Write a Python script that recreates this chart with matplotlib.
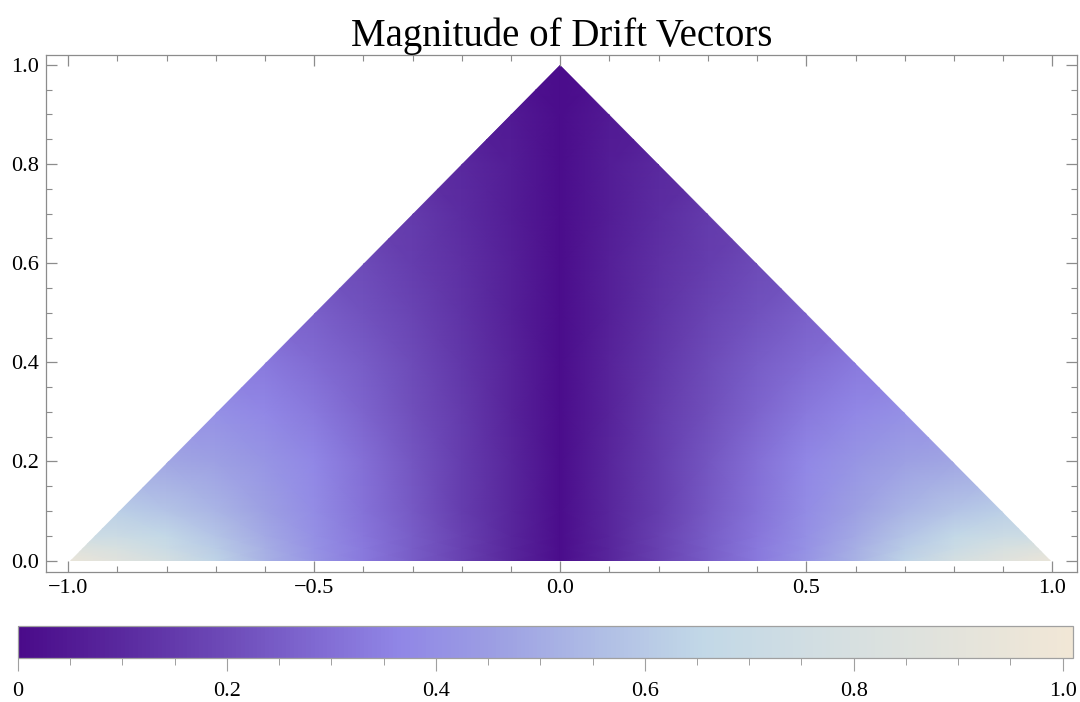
import numpy as np
import matplotlib.pyplot as plt
from matplotlib.colors import LinearSegmentedColormap
from matplotlib.patches import Polygon
from matplotlib.ticker import MultipleLocator, FixedLocator

plt.rcParams['font.family'] = ['Liberation Serif', 'DejaVu Serif']

# sample grid for the right half of the domain (left half is the mirror image)
x_half = [0.0, 0.1, 0.2, 0.3, 0.4, 0.5, 0.6, 0.7, 0.8, 0.9, 1.0]
y_rows = [0.0, 0.025, 0.05, 0.1, 0.2, 0.3, 0.4, 0.5, 0.6, 0.7, 0.8, 0.9, 1.0]

# drift magnitude at each (y, x) node
magnitude = [
    [0.01, 0.09, 0.17, 0.25, 0.33, 0.42, 0.52, 0.64, 0.78, 0.87, 0.95],
    [0.01, 0.09, 0.17, 0.25, 0.33, 0.41, 0.51, 0.61, 0.71, 0.80, 0.86],
    [0.01, 0.09, 0.17, 0.25, 0.32, 0.40, 0.49, 0.58, 0.66, 0.72, 0.72],
    [0.01, 0.09, 0.16, 0.24, 0.31, 0.39, 0.46, 0.53, 0.58, 0.62, 0.62],
    [0.01, 0.09, 0.16, 0.23, 0.30, 0.37, 0.42, 0.46, 0.48, 0.48, 0.48],
    [0.01, 0.08, 0.15, 0.21, 0.27, 0.33, 0.37, 0.40, 0.40, 0.40, 0.40],
    [0.01, 0.08, 0.14, 0.20, 0.25, 0.29, 0.33, 0.33, 0.33, 0.33, 0.33],
    [0.01, 0.07, 0.13, 0.18, 0.22, 0.26, 0.26, 0.26, 0.26, 0.26, 0.26],
    [0.01, 0.07, 0.12, 0.16, 0.20, 0.20, 0.20, 0.20, 0.20, 0.20, 0.20],
    [0.01, 0.06, 0.11, 0.15, 0.15, 0.15, 0.15, 0.15, 0.15, 0.15, 0.15],
    [0.01, 0.06, 0.10, 0.10, 0.10, 0.10, 0.10, 0.10, 0.10, 0.10, 0.10],
    [0.01, 0.05, 0.05, 0.05, 0.05, 0.05, 0.05, 0.05, 0.05, 0.05, 0.05],
    [0.01, 0.01, 0.01, 0.01, 0.01, 0.01, 0.01, 0.01, 0.01, 0.01, 0.01],
]

cbar_ticks = [0, 0.2, 0.4, 0.6, 0.8, 1.0]
cbar_labels = ['0', '0.2', '0.4', '0.6', '0.8', '1.0']
x_ticks = [-1.0, -0.5, 0.0, 0.5, 1.0]
x_labels = ['\u22121.0', '\u22120.5', '0.0', '0.5', '1.0']
y_ticks = [0.0, 0.2, 0.4, 0.6, 0.8, 1.0]
y_labels = ['0.0', '0.2', '0.4', '0.6', '0.8', '1.0']

# lake-like colour scheme: deep violet -> periwinkle -> pale blue -> cream
lake = LinearSegmentedColormap.from_list('lake', [
    (0.00, '#4a0b8a'),
    (0.10, '#5a2a9f'),
    (0.20, '#6e4cb9'),
    (0.30, '#8470d7'),
    (0.36, '#9086e6'),
    (0.45, '#9c9ee3'),
    (0.55, '#afbde5'),
    (0.65, '#c2d8e7'),
    (0.80, '#d8e0e0'),
    (1.00, '#f1e7d6'),
])

xh = np.array(x_half)
z_half = np.array(magnitude)
xs = np.concatenate([-xh[:0:-1], xh])
zs = np.concatenate([z_half[:, :0:-1], z_half], axis=1)
X, Y = np.meshgrid(xs, np.array(y_rows))

fig = plt.figure(figsize=(10.8, 7.02), dpi=100)
ax = fig.add_axes([46 / 1080, 130 / 702, 1031 / 1080, 517 / 702])

mesh = ax.pcolormesh(X, Y, zs, shading='gouraud', cmap=lake, vmin=0, vmax=1.01)
tri = Polygon([(-0.997, 0.0), (0.0, 1.0), (0.997, 0.0)], closed=True,
              transform=ax.transData, facecolor='none', edgecolor='none')
ax.add_patch(tri)
mesh.set_clip_path(tri)

ax.set_xlim(-1.045, 1.05)
ax.set_ylim(-0.023, 1.02)
ax.set_xticks(x_ticks, x_labels)
ax.set_yticks(y_ticks, y_labels)
ax.xaxis.set_minor_locator(MultipleLocator(0.1))
ax.yaxis.set_minor_locator(MultipleLocator(0.05))
ax.tick_params(which='both', direction='in', top=True, right=True,
               color='#8c8c8c', labelsize=16, labelcolor='black')
ax.tick_params(which='major', length=8, width=0.9, pad=5)
ax.tick_params(which='minor', length=4.5, width=0.8)
for s in ax.spines.values():
    s.set_color('#8c8c8c')
    s.set_linewidth(0.9)

ax.set_title('Magnitude of Drift Vectors', fontsize=28, pad=6)

# horizontal legend bar under the plot
cax = fig.add_axes([18 / 1080, 44 / 702, 1055 / 1080, 32 / 702])
cb = fig.colorbar(mesh, cax=cax, orientation='horizontal')
cb.set_ticks(cbar_ticks, labels=cbar_labels)
cax.xaxis.set_minor_locator(FixedLocator(np.arange(0, 1.0001, 0.05)))
cax.tick_params(which='both', direction='out', color='#a0a0a0', labelsize=16)
cax.tick_params(which='major', length=9, width=0.8, pad=8)
cax.tick_params(which='minor', length=5, width=0.7)
cb.outline.set_edgecolor('#a0a0a0')
cb.outline.set_linewidth(0.9)

fig.savefig('out.png', dpi=100)
